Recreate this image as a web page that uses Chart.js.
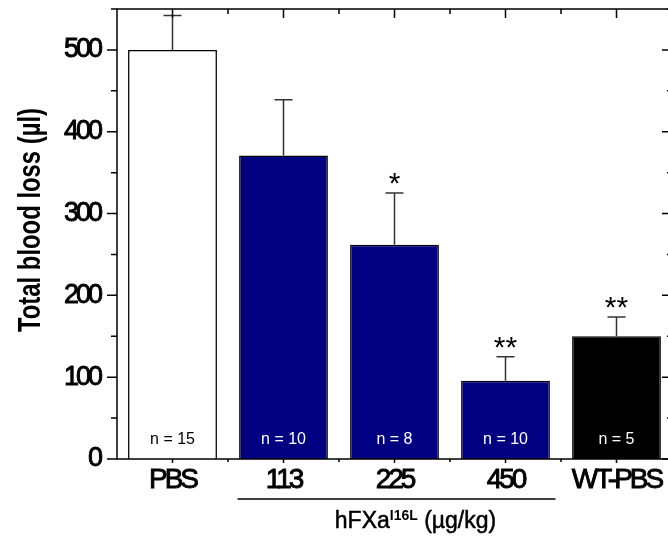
<!DOCTYPE html>
<html>
<head>
<meta charset="utf-8">
<script src="https://cdn.jsdelivr.net/npm/chart.js@4.4.1/dist/chart.umd.min.js"></script>
<style>
  html, body { margin: 0; padding: 0; background: #fff; overflow: hidden; }
  #wrap { position: relative; width: 680px; height: 537px; }
</style>
</head>
<body>
<div id="wrap"><canvas id="bloodLossChart"></canvas></div>
<script>
// ---- data ----
const groups = ['PBS', '113', '225', '450', 'WT-PBS'];
const bloodLoss = [500, 371, 262, 95.5, 150];
const errorUp = [42, 68, 63, 29.5, 23.5];
const groupN = ['n = 15', 'n = 10', 'n = 8', 'n = 10', 'n = 5'];
const stars = ['', '', '*', '**', '**'];
const barColors = ['#ffffff', '#000080', '#000080', '#000080', '#000000'];
const nColors = ['#000000', '#ffffff', '#ffffff', '#ffffff', '#ffffff'];
const yMax = 550;
const yStep = 50;
const yMajor = 100;
const yTitle = 'Total blood loss (µl)';
const xTitle = ['hFXa', 'I16L', ' (µg/kg)'];

const FONT = "'Liberation Sans', Arial, sans-serif";

/* ------------------------------
   Extras drawn on top of the bars
------------------------------ */
const decor = {
  id: 'decor',
  beforeDraw(chart) {
    // squeeze tick labels a bit, the original type is narrow
    chart.ctx.letterSpacing = '-3px';
  },
  afterDatasetsDraw(chart) {
    const { ctx, scales: { y } } = chart;
    const bars = chart.getDatasetMeta(0).data;
    ctx.save();
    ctx.letterSpacing = '0px';

    bars.forEach((bar, i) => {
      const yTop = y.getPixelForValue(bloodLoss[i]);
      const yErr = y.getPixelForValue(bloodLoss[i] + errorUp[i]);

      // upper error bar
      ctx.strokeStyle = '#333';
      ctx.lineWidth = 1.5;
      ctx.beginPath();
      ctx.moveTo(bar.x, yTop);
      ctx.lineTo(bar.x, yErr);
      ctx.moveTo(bar.x - 9, yErr);
      ctx.lineTo(bar.x + 9, yErr);
      ctx.stroke();

      // significance
      if (stars[i]) {
        ctx.fillStyle = '#000';
        ctx.font = '30px ' + FONT;
        ctx.textAlign = 'center';
        ctx.textBaseline = 'alphabetic';
        ctx.fillText(stars[i], bar.x, yErr);
      }

      // group size
      ctx.fillStyle = nColors[i];
      ctx.font = '16px ' + FONT;
      ctx.textAlign = 'center';
      ctx.textBaseline = 'alphabetic';
      ctx.fillText(groupN[i], bar.x, y.getPixelForValue(0) - 15);
    });
    ctx.restore();
  },
  afterDraw(chart) {
    const { ctx, chartArea: a, scales: { x, y } } = chart;
    ctx.save();
    ctx.letterSpacing = '0px';
    ctx.strokeStyle = '#000';
    ctx.lineWidth = 1.5;

    // frame
    ctx.strokeRect(a.left, a.top, a.right - a.left, a.bottom - a.top);

    // y ticks: out on the left, in on the right
    ctx.beginPath();
    for (let v = 0; v <= yMax; v += yStep) {
      const py = y.getPixelForValue(v);
      const major = v % yMajor === 0;
      ctx.moveTo(a.left - (major ? 10 : 6), py);
      ctx.lineTo(a.left, py);
      ctx.moveTo(a.right - (major ? 10 : 5), py);
      ctx.lineTo(a.right, py);
    }
    // x ticks: major at groups, minor between them
    groups.forEach((g, i) => {
      const px = x.getPixelForValue(i);
      ctx.moveTo(px, a.top);
      ctx.lineTo(px, a.top + 9);
      ctx.moveTo(px, a.bottom);
      ctx.lineTo(px, a.bottom + 4);
      if (i < groups.length - 1) {
        const mx = (px + x.getPixelForValue(i + 1)) / 2;
        ctx.moveTo(mx, a.top);
        ctx.lineTo(mx, a.top + 5);
        ctx.moveTo(mx, a.bottom);
        ctx.lineTo(mx, a.bottom + 3);
      }
    });
    ctx.stroke();

    // bracket under the dose groups
    ctx.beginPath();
    ctx.moveTo(x.getPixelForValue(1) - 46, 499);
    ctx.lineTo(x.getPixelForValue(3) + 50, 499);
    ctx.stroke();

    // x title with superscript
    ctx.fillStyle = '#000';
    ctx.strokeStyle = '#000';
    ctx.lineWidth = 0.5;
    ctx.textBaseline = 'alphabetic';
    ctx.textAlign = 'left';
    const mainFont = '23px ' + FONT;
    const supFont = 'bold 14px ' + FONT;
    ctx.font = mainFont;
    const w0 = ctx.measureText(xTitle[0]).width;
    const w2 = ctx.measureText(xTitle[2]).width;
    ctx.font = supFont;
    const w1 = ctx.measureText(xTitle[1]).width;
    let tx = x.getPixelForValue(2) + 21 - (w0 + w1 + w2) / 2;
    ctx.font = mainFont;
    ctx.fillText(xTitle[0], tx, 528);
    ctx.strokeText(xTitle[0], tx, 528);
    tx += w0;
    ctx.font = supFont;
    ctx.fillText(xTitle[1], tx, 520);
    tx += w1;
    ctx.font = mainFont;
    ctx.fillText(xTitle[2], tx, 528);
    ctx.strokeText(xTitle[2], tx, 528);

    // y title, rotated and narrowed
    ctx.translate(40, 220);
    ctx.rotate(-Math.PI / 2);
    ctx.font = 'bold 32px ' + FONT;
    const tw = ctx.measureText(yTitle).width;
    ctx.scale(224 / tw, 1);
    ctx.textAlign = 'center';
    ctx.fillText(yTitle, 0, 0);
    ctx.restore();
  }
};

new Chart(document.getElementById('bloodLossChart'), {
  type: 'bar',
  data: {
    labels: groups,
    datasets: [{
      data: bloodLoss,
      backgroundColor: barColors,
      borderColor: '#000',
      borderWidth: 1.5,
      barPercentage: 0.8,
      categoryPercentage: 1.0
    }]
  },
  options: {
    responsive: true,
    maintainAspectRatio: false,
    animation: false,
    devicePixelRatio: 1,
    layout: { padding: { top: 9, right: 8, left: 0, bottom: 0 } },
    plugins: {
      legend: { display: false },
      tooltip: { enabled: false }
    },
    scales: {
      x: {
        offset: true,
        grid: { display: false, drawTicks: false },
        border: { display: false },
        ticks: {
          color: '#000',
          font: { family: FONT, size: 28 },
          textStrokeColor: '#000',
          textStrokeWidth: 0.9,
          padding: 4,
          maxRotation: 0,
          autoSkip: false
        },
        afterFit(s) {
          s.height = 78;
          s.paddingLeft = 0;
          s.paddingRight = 0;
        }
      },
      y: {
        min: 0,
        max: yMax,
        grid: { display: false, drawTicks: false },
        border: { display: false },
        ticks: {
          stepSize: yStep,
          autoSkip: false,
          color: '#000',
          font: { family: FONT, size: 27 },
          textStrokeColor: '#000',
          textStrokeWidth: 0.9,
          padding: 17,
          callback: v => (v % yMajor === 0 ? String(v) : '')
        },
        afterFit(s) {
          s.width = 117;
          s.paddingTop = 0;
          s.paddingBottom = 0;
        }
      }
    }
  },
  plugins: [decor]
});
</script>
</body>
</html>
